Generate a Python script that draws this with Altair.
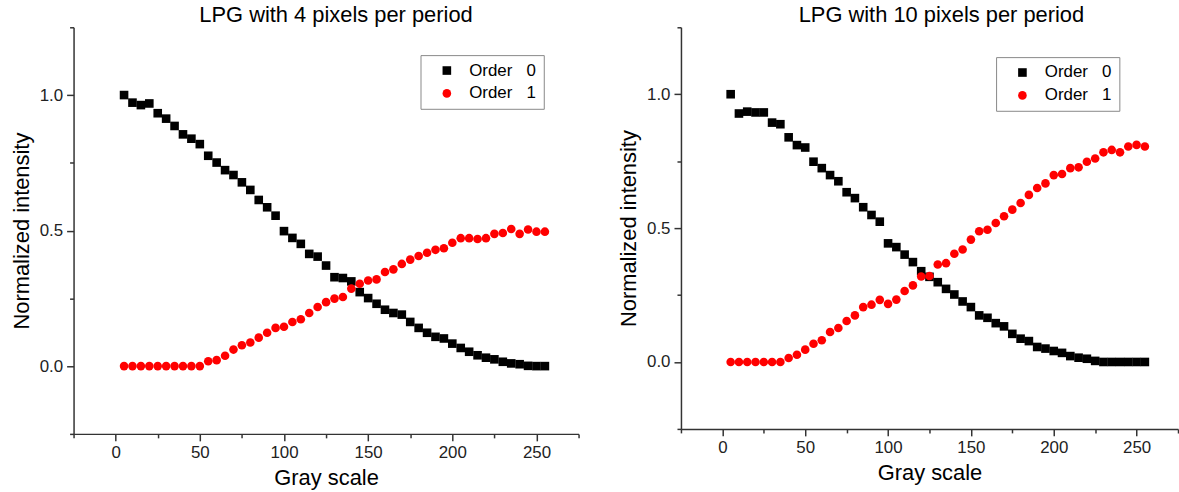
import altair as alt
import pandas as pd

GRAY = [5, 10, 15, 20, 25, 30, 35, 40, 45, 50, 55, 60, 65, 70, 75, 80, 85, 90, 95, 100,
        105, 110, 115, 120, 125, 130, 135, 140, 145, 150, 155, 160, 165, 170, 175, 180,
        185, 190, 195, 200, 205, 210, 215, 220, 225, 230, 235, 240, 245, 250, 255]

LEFT_ORDER0 = [1.0, 0.972, 0.963, 0.969, 0.933, 0.913, 0.886, 0.855, 0.839, 0.819,
               0.776, 0.751, 0.723, 0.705, 0.678, 0.650, 0.613, 0.586, 0.555, 0.498,
               0.473, 0.451, 0.414, 0.404, 0.371, 0.328, 0.325, 0.3125, 0.273, 0.251,
               0.230, 0.208, 0.196, 0.190, 0.163, 0.141, 0.123, 0.108, 0.102, 0.083,
               0.067, 0.053, 0.040, 0.031, 0.025, 0.016, 0.010, 0.007, 0.001, 0.0, 0.0]
LEFT_ORDER1 = [0.0, 0.0, 0.0, 0.0, 0.0, 0.0, 0.0, 0.0, 0.0, 0.0,
               0.018, 0.022, 0.038, 0.061, 0.077, 0.087, 0.105, 0.123, 0.141, 0.145,
               0.163, 0.173, 0.196, 0.218, 0.236, 0.249, 0.255, 0.286, 0.304, 0.316,
               0.320, 0.347, 0.357, 0.377, 0.393, 0.406, 0.418, 0.429, 0.435, 0.455,
               0.472, 0.472, 0.469, 0.472, 0.488, 0.491, 0.506, 0.488, 0.504, 0.496, 0.496]

RIGHT_ORDER0 = [1.0, 0.928, 0.935, 0.932, 0.932, 0.894, 0.888, 0.839, 0.810, 0.801,
                0.748, 0.724, 0.698, 0.675, 0.634, 0.612, 0.578, 0.549, 0.524, 0.443,
                0.429, 0.401, 0.373, 0.339, 0.318, 0.298, 0.273, 0.252, 0.226, 0.205,
                0.174, 0.165, 0.145, 0.133, 0.105, 0.087, 0.078, 0.056, 0.050, 0.041,
                0.034, 0.022, 0.016, 0.012, 0.004, 0.0, 0.0, 0.0, 0.0, 0.0, 0.0]
RIGHT_ORDER1 = [0.0, 0.0, 0.0, 0.0, 0.0, 0.0, 0.0, 0.015, 0.027, 0.046,
                0.068, 0.081, 0.112, 0.127, 0.153, 0.174, 0.205, 0.214, 0.232, 0.217,
                0.233, 0.265, 0.286, 0.319, 0.321, 0.364, 0.369, 0.404, 0.420, 0.457,
                0.488, 0.494, 0.519, 0.544, 0.569, 0.594, 0.624, 0.650, 0.667, 0.698,
                0.702, 0.724, 0.727, 0.748, 0.760, 0.783, 0.792, 0.783, 0.805, 0.811, 0.805]

SERIES = ["Order\u00a0\u00a0\u00a00", "Order\u00a0\u00a0\u00a01"]
COLORS = ["#000000", "#ff0000"]
SHAPES = ["square", "circle"]

X_TICKS = [-25, 0, 25, 50, 75, 100, 125, 150, 175, 200, 225, 250, 275]
Y_TICKS = [-0.25, 0.0, 0.25, 0.5, 0.75, 1.0, 1.25]

TITLES = ["LPG with 4 pixels per period", "LPG with 10 pixels per period"]

FONT = "Liberation Sans"


def panel(title, o0, o1, w, h, lx, ly, tdx):
    df = pd.DataFrame({
        "gray": GRAY + GRAY,
        "val": o0 + o1,
        "series": [SERIES[0]] * len(GRAY) + [SERIES[1]] * len(GRAY),
        "ord": [0] * len(GRAY) + [1] * len(GRAY),
    })
    xaxis = alt.Axis(
        values=X_TICKS,
        labelExpr="datum.value % 50 === 0 ? datum.label : ''",
        tickSize={"condition": {"test": "datum.value % 50 === 0", "value": 7}, "value": 4},
        title="Gray scale",
        titlePadding=7,
    )
    yaxis = alt.Axis(
        values=Y_TICKS,
        format=".1f",
        labelExpr="datum.value % 0.5 === 0 ? datum.label : ''",
        tickSize={"condition": {"test": "datum.value % 0.5 === 0", "value": 7}, "value": 4},
        title="Normalized intensity",
        titlePadding=6,
    )
    legend = alt.Legend(
        orient="none", legendX=lx, legendY=ly, title=None,
        strokeColor="#888888", fillColor="white", padding=7,
        labelFontSize=17, labelFont=FONT, labelColor="black",
        symbolSize=75, symbolOffset=11, labelOffset=14, rowPadding=5,
        symbolStrokeWidth=0,
    )
    return alt.Chart(df).mark_point(filled=True, opacity=1, size=75).encode(
        x=alt.X("gray:Q", scale=alt.Scale(domain=[-25, 275], nice=False, zero=False), axis=xaxis),
        y=alt.Y("val:Q", scale=alt.Scale(domain=[-0.25, 1.25], nice=False, zero=False), axis=yaxis),
        color=alt.Color("series:N", scale=alt.Scale(domain=SERIES, range=COLORS), legend=legend),
        shape=alt.Shape("series:N", scale=alt.Scale(domain=SERIES, range=SHAPES), legend=legend),
        order=alt.Order("ord:Q"),
    ).properties(
        width=w, height=h,
        title=alt.TitleParams(title, fontSize=22, font=FONT, fontWeight="normal",
                              anchor="middle", dx=tdx, dy=2, color="black", offset=2),
    )


left = panel(TITLES[0], LEFT_ORDER0, LEFT_ORDER1, 508, 409, 349, 28, 10)
right = panel(TITLES[1], RIGHT_ORDER0, RIGHT_ORDER1, 500, 404, 317, 30, 12)

chart = alt.hconcat(left, right, spacing=38).resolve_scale(
    color="independent", shape="independent"
).resolve_legend(
    color="independent", shape="independent"
).configure(
    padding={"left": 10, "top": 2, "right": 0, "bottom": 0},
    background="white",
).configure_view(
    stroke=None
).configure_axis(
    grid=False,
    domainColor="#333333", domainWidth=1.5,
    tickColor="#333333", tickWidth=1.5,
    labelFont=FONT, labelFontSize=17, labelColor="#222222", labelPadding=4,
    titleFont=FONT, titleFontSize=22, titleColor="black", titleFontWeight="normal",
)

chart.save("out.html", embed_options={"renderer": "svg", "actions": False})
